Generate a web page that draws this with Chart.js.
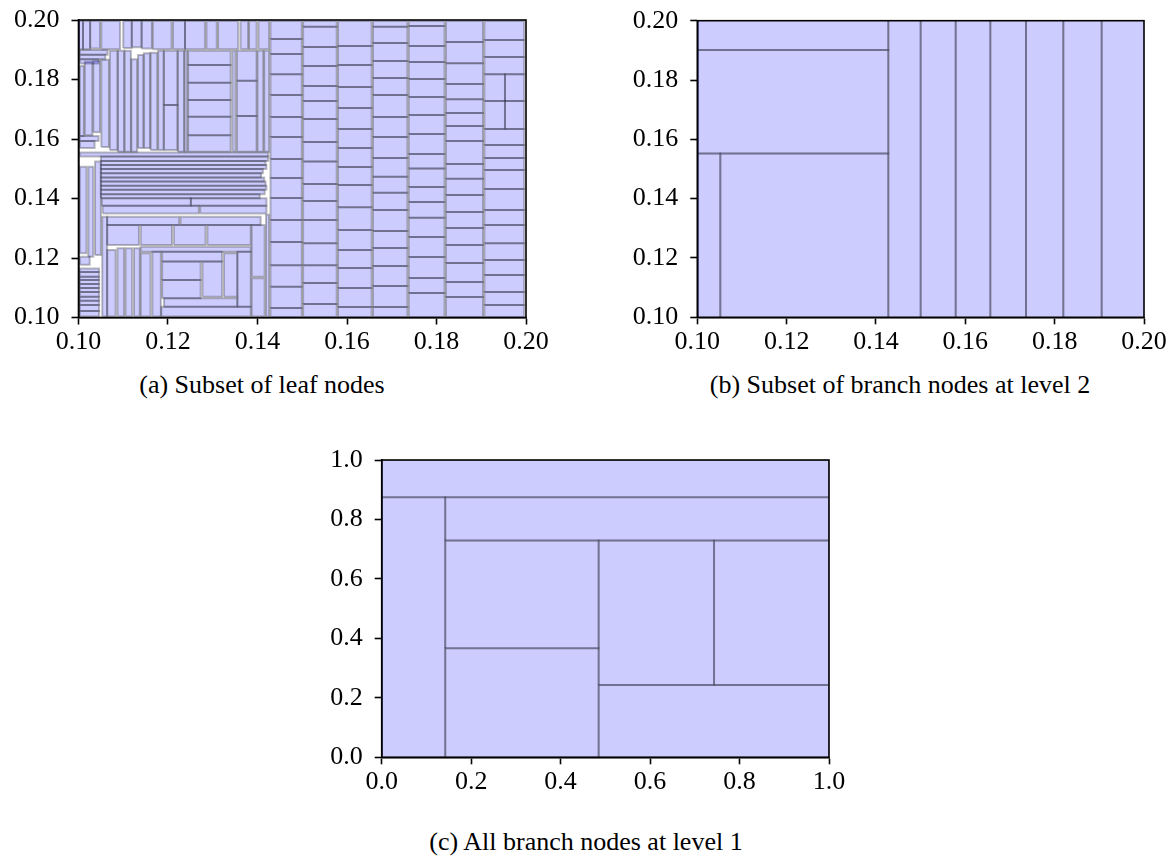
<!DOCTYPE html>
<html>
<head>
<meta charset="utf-8">
<script src="https://cdn.jsdelivr.net/npm/chart.js@4.4.1/dist/chart.umd.min.js"></script>
<style>
    body { margin: 0; background: #fff; width: 1172px; height: 864px; position: relative; overflow: hidden; }
    canvas { position: absolute; }
    .caption { position: absolute; font-family: 'Liberation Serif', serif; font-size: 26px; color: #000; white-space: nowrap; transform: translate(-50%, -50%); }
</style>
</head>
<body>
<canvas id="leaf-chart" width="560" height="360" style="left:0;top:0"></canvas>
<canvas id="branch2-chart" width="572" height="360" style="left:600px;top:0"></canvas>
<canvas id="branch1-chart" width="600" height="380" style="left:290px;top:420px"></canvas>
<div class="caption" style="left:262px;top:385px">(a) Subset of leaf nodes</div>
<div class="caption" style="left:900px;top:385px">(b) Subset of branch nodes at level 2</div>
<div class="caption" style="left:586px;top:842px">(c) All branch nodes at level 1</div>
<script>
// tick labels
const subsetTicks = [0.10, 0.12, 0.14, 0.16, 0.18, 0.20];
const levelOneTicks = [0.0, 0.2, 0.4, 0.6, 0.8, 1.0];

// (a) leaf nodes stacked in columns: x range + y breaks (top to bottom)
const leafColumnX = [
    [0.1429, 0.1499], [0.1502, 0.1577], [0.1580, 0.1655], [0.1658, 0.1735],
    [0.1738, 0.1818], [0.1821, 0.1904], [0.1907, 0.1996], [0.1907, 0.1996],
    [0.1245, 0.1340], [0.1354, 0.1398], [0.1003, 0.1046]
];
const leafColumnBreaks = [
    [0.1997, 0.1936, 0.1886, 0.1818, 0.1748, 0.1674, 0.1607, 0.1533, 0.1469, 0.1402, 0.1328, 0.1254, 0.1176, 0.1103, 0.1032, 0.1002],
    [0.1997, 0.1977, 0.1909, 0.1845, 0.1778, 0.1728, 0.1667, 0.1590, 0.1524, 0.1449, 0.1392, 0.1328, 0.1250, 0.1176, 0.1116, 0.1045, 0.1002],
    [0.1997, 0.1913, 0.1849, 0.1775, 0.1704, 0.1634, 0.1570, 0.1506, 0.1445, 0.1371, 0.1294, 0.1227, 0.1166, 0.1099, 0.1035, 0.1002],
    [0.1997, 0.1977, 0.1923, 0.1862, 0.1805, 0.1748, 0.1674, 0.1607, 0.1536, 0.1473, 0.1419, 0.1361, 0.1291, 0.1234, 0.1173, 0.1106, 0.1035, 0.1002],
    [0.1997, 0.1980, 0.1913, 0.1859, 0.1802, 0.1741, 0.1681, 0.1617, 0.1550, 0.1501, 0.1439, 0.1388, 0.1335, 0.1271, 0.1203, 0.1133, 0.1082, 0.1002],
    [0.1997, 0.1926, 0.1855, 0.1785, 0.1734, 0.1687, 0.1644, 0.1593, 0.1516, 0.1466, 0.1412, 0.1355, 0.1301, 0.1244, 0.1183, 0.1119, 0.1069, 0.1002],
    [0.1997, 0.1933, 0.1876, 0.1818],
    [0.1634, 0.1580, 0.1536, 0.1496, 0.1432, 0.1361, 0.1311, 0.1250, 0.1193, 0.1143, 0.1086, 0.1042, 0.1002],
    [0.1897, 0.1849, 0.1789, 0.1731, 0.1675, 0.1613, 0.1557],
    [0.1897, 0.1796, 0.1677, 0.1557],
    [0.1165, 0.1153, 0.1137, 0.1126, 0.1113, 0.1099, 0.1086, 0.1070, 0.1056, 0.1042, 0.1022, 0.1003]
];

// (a) remaining leaf nodes: [xmin, xmax, ymin, ymax]
const leafRects = [
    // top row
    [0.1001, 0.1010, 0.1902, 0.1997], [0.1010, 0.1026, 0.1902, 0.1997], [0.1026, 0.1048, 0.1904, 0.1997],
    [0.1051, 0.1093, 0.1902, 0.1997], [0.1100, 0.1119, 0.1906, 0.1997], [0.1119, 0.1141, 0.1908, 0.1997],
    [0.1141, 0.1164, 0.1904, 0.1997], [0.1166, 0.1208, 0.1902, 0.1997], [0.1211, 0.1238, 0.1902, 0.1997],
    [0.1238, 0.1283, 0.1902, 0.1997], [0.1286, 0.1309, 0.1902, 0.1997], [0.1312, 0.1357, 0.1902, 0.1997],
    [0.1362, 0.1379, 0.1902, 0.1997], [0.1381, 0.1398, 0.1902, 0.1997], [0.1402, 0.1426, 0.1902, 0.1997],
    // middle band
    [0.1003, 0.1065, 0.1883, 0.1899], [0.1003, 0.1060, 0.1868, 0.1883], [0.1003, 0.1045, 0.1854, 0.1868],
    [0.1003, 0.1012, 0.1610, 0.1845], [0.1014, 0.1031, 0.1613, 0.1860], [0.1033, 0.1048, 0.1623, 0.1862],
    [0.1051, 0.1068, 0.1573, 0.1866], [0.1003, 0.1045, 0.1593, 0.1610], [0.1003, 0.1036, 0.1570, 0.1593],
    [0.1070, 0.1087, 0.1563, 0.1897], [0.1088, 0.1102, 0.1557, 0.1897], [0.1103, 0.1117, 0.1557, 0.1897],
    [0.1118, 0.1131, 0.1557, 0.1868], [0.1133, 0.1145, 0.1570, 0.1882], [0.1146, 0.1160, 0.1570, 0.1888],
    [0.1161, 0.1176, 0.1563, 0.1890], [0.1178, 0.1190, 0.1563, 0.1897], [0.1191, 0.1221, 0.1714, 0.1897],
    [0.1191, 0.1221, 0.1563, 0.1714], [0.1222, 0.1236, 0.1557, 0.1897], [0.1237, 0.1243, 0.1557, 0.1897],
    [0.1344, 0.1351, 0.1557, 0.1897], [0.1400, 0.1413, 0.1557, 0.1897], [0.1415, 0.1426, 0.1557, 0.1897],
    // horizontal stripes
    [0.1003, 0.1424, 0.1541, 0.1555], [0.1050, 0.1424, 0.1526, 0.1541], [0.1050, 0.1418, 0.1513, 0.1526],
    [0.1050, 0.1420, 0.1499, 0.1513], [0.1050, 0.1412, 0.1485, 0.1499], [0.1050, 0.1408, 0.1471, 0.1485],
    [0.1050, 0.1415, 0.1457, 0.1471], [0.1050, 0.1418, 0.1443, 0.1457], [0.1050, 0.1420, 0.1429, 0.1443],
    [0.1050, 0.1416, 0.1414, 0.1429], [0.1050, 0.1405, 0.1401, 0.1414], [0.1052, 0.1251, 0.1376, 0.1401],
    [0.1251, 0.1420, 0.1376, 0.1401], [0.1054, 0.1269, 0.1350, 0.1376], [0.1272, 0.1420, 0.1350, 0.1376],
    [0.1064, 0.1225, 0.1311, 0.1339], [0.1228, 0.1407, 0.1311, 0.1339], [0.1064, 0.1135, 0.1244, 0.1311],
    [0.1139, 0.1209, 0.1244, 0.1311], [0.1213, 0.1284, 0.1244, 0.1311], [0.1288, 0.1385, 0.1244, 0.1311],
    // lower left
    [0.1003, 0.1018, 0.1216, 0.1507], [0.1022, 0.1033, 0.1204, 0.1507], [0.1037, 0.1050, 0.1210, 0.1524],
    [0.1053, 0.1064, 0.1003, 0.1339], [0.1003, 0.1025, 0.1177, 0.1204],
    [0.1064, 0.1083, 0.1003, 0.1227], [0.1087, 0.1102, 0.1003, 0.1233], [0.1105, 0.1120, 0.1003, 0.1233],
    [0.1124, 0.1137, 0.1003, 0.1233], [0.1139, 0.1161, 0.1003, 0.1216], [0.1165, 0.1184, 0.1003, 0.1221],
    [0.1187, 0.1321, 0.1188, 0.1221], [0.1187, 0.1273, 0.1126, 0.1188], [0.1187, 0.1273, 0.1065, 0.1126],
    [0.1277, 0.1321, 0.1070, 0.1188], [0.1325, 0.1355, 0.1070, 0.1216], [0.1355, 0.1385, 0.1036, 0.1221],
    [0.1191, 0.1355, 0.1036, 0.1065], [0.1185, 0.1385, 0.1003, 0.1036], [0.1139, 0.1385, 0.1221, 0.1238],
    [0.1387, 0.1416, 0.1137, 0.1311], [0.1387, 0.1416, 0.1003, 0.1132], [0.1419, 0.1426, 0.1003, 0.1345],
    // split boxes in the last column
    [0.1907, 0.1953, 0.1728, 0.1818], [0.1953, 0.1996, 0.1728, 0.1818],
    [0.1907, 0.1953, 0.1634, 0.1728], [0.1953, 0.1996, 0.1634, 0.1728]
];

// (b) branch nodes at level 2
const branch2Rects = [
    [0.0950, 0.14276, 0.1901, 0.2050],
    [0.0950, 0.14276, 0.1552, 0.1901],
    [0.10515, 0.14276, 0.0950, 0.1552],
    [0.0950, 0.10515, 0.0950, 0.1552]
];
const branch2ColumnEdges = [0.14276, 0.15, 0.15784, 0.1656, 0.17358, 0.18194, 0.19052, 0.2050];
const branch2ColumnSpan = [0.0950, 0.2050];

// (c) branch nodes at level 1
const branch1Rects = [
    [0.0, 1.0, 0.875, 1.0],
    [0.0, 0.142, 0.0, 0.875],
    [0.142, 1.0, 0.729, 0.875],
    [0.142, 0.485, 0.367, 0.729],
    [0.142, 0.485, 0.0, 0.367],
    [0.485, 0.743, 0.243, 0.729],
    [0.743, 1.0, 0.243, 0.729],
    [0.485, 1.0, 0.0, 0.243]
];

const FILL = 'rgba(0, 0, 255, 0.2)';
const EDGE = 'rgba(0, 0, 0, 0.26)';
const FONT = { family: "'Liberation Serif', serif", size: 26 };

function rectDataset(r) {
    const [x0, x1, y0, y1] = r;
    return {
        data: [{ x: x0, y: y0 }, { x: x1, y: y0 }, { x: x1, y: y1 }, { x: x0, y: y1 }, { x: x0, y: y0 }],
        showLine: true,
        fill: 'shape',
        backgroundColor: FILL,
        borderColor: EDGE,
        borderWidth: 2,
        pointRadius: 0,
        tension: 0
    };
}

function columnRects(xs, breaks) {
    const out = [];
    for (let i = 0; i < breaks.length - 1; i++) {
        out.push([xs[0], xs[1], Math.min(breaks[i], breaks[i + 1]), Math.max(breaks[i], breaks[i + 1])]);
    }
    return out;
}

// clip the rectangles to the plot area and draw the box around it
const framePlugin = {
    id: 'frame',
    beforeDatasetsDraw(chart) {
        const a = chart.chartArea;
        chart.ctx.save();
        chart.ctx.beginPath();
        chart.ctx.rect(a.left, a.top, a.right - a.left, a.bottom - a.top);
        chart.ctx.clip();
    },
    afterDatasetsDraw(chart) {
        chart.ctx.restore();
    },
    afterDraw(chart) {
        const a = chart.chartArea;
        const ctx = chart.ctx;
        ctx.save();
        ctx.strokeStyle = '#000';
        ctx.lineWidth = 1.6;
        ctx.strokeRect(a.left, a.top, a.right - a.left, a.bottom - a.top);
        ctx.restore();
    }
};

function axis(ticks, digits, pad, fit) {
    return {
        type: 'linear',
        min: ticks[0],
        max: ticks[ticks.length - 1],
        afterBuildTicks: s => { s.ticks = ticks.map(v => ({ value: v })); },
        afterFit: fit,
        ticks: { callback: v => v.toFixed(digits), color: '#000', font: FONT, padding: pad, maxRotation: 0, autoSkip: false },
        grid: { drawOnChartArea: false, tickLength: 7, tickWidth: 1.6, tickColor: '#000' },
        border: { color: '#000', width: 1.6 }
    };
}

function createPanel(id, rects, ticks, digits, box) {
    const ctx = document.getElementById(id).getContext('2d');
    new Chart(ctx, {
        type: 'scatter',
        data: { datasets: rects.map(rectDataset) },
        options: {
            responsive: false,
            animation: false,
            events: [],
            layout: { padding: { left: 0, top: box.top, right: box.right, bottom: 0 } },
            plugins: { legend: { display: false }, tooltip: { enabled: false } },
            scales: {
                x: axis(ticks, digits, 2, s => {
                    s.height = box.xHeight;
                    s.paddingLeft = 0;
                    s.paddingRight = 0;
                }),
                y: axis(ticks, digits, 12, s => {
                    s.width = box.yWidth;
                    s.paddingTop = 0;
                    s.paddingBottom = 0;
                })
            }
        },
        plugins: [framePlugin]
    });
}

let leafAll = leafRects.slice();
leafColumnX.forEach((xs, i) => { leafAll = leafAll.concat(columnRects(xs, leafColumnBreaks[i])); });

let branch2All = branch2Rects.slice();
for (let i = 0; i < branch2ColumnEdges.length - 1; i++) {
    branch2All.push([branch2ColumnEdges[i], branch2ColumnEdges[i + 1], branch2ColumnSpan[0], branch2ColumnSpan[1]]);
}

createPanel('leaf-chart', leafAll, subsetTicks, 2, { top: 20, right: 34, yWidth: 78.5, xHeight: 42.5 });
createPanel('branch2-chart', branch2All, subsetTicks, 2, { top: 20.7, right: 28, yWidth: 97.3, xHeight: 42.7 });
createPanel('branch1-chart', branch1Rects, levelOneTicks, 1, { top: 40, right: 61, yWidth: 91.7, xHeight: 42.7 });
</script>
</body>
</html>
